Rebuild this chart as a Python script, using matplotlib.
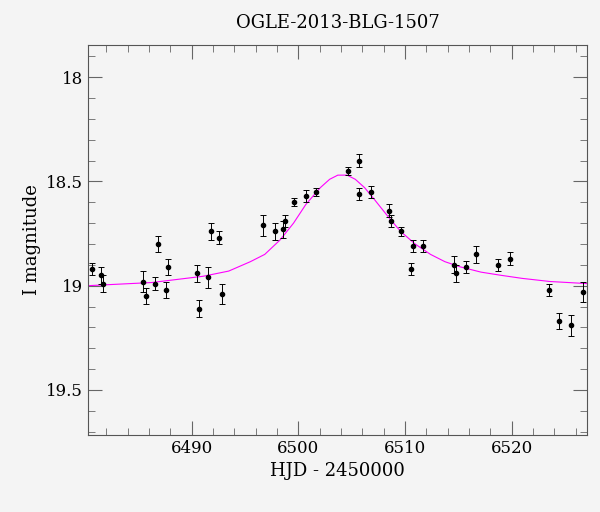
import matplotlib
matplotlib.use("Agg")
import matplotlib.pyplot as plt
from matplotlib.ticker import MultipleLocator

hjd = [6480.63,6481.50,6481.69,6485.46,6485.75,6486.52,6486.81,6487.58,6487.78,6490.48,6490.68,
       6491.54,6491.83,6492.60,6492.80,6496.66,6497.82,6498.59,6498.78,6499.55,6500.71,6501.68,
       6504.67,6505.64,6505.73,6506.79,6508.53,6508.73,6509.59,6510.56,6510.75,6511.72,
       6514.61,6514.81,6515.67,6516.64,6518.76,6519.83,6523.49,6524.46,6525.52,6526.68]
mag = [18.92,18.95,18.99,18.98,19.05,18.99,18.80,19.02,18.91,18.94,19.11,
       18.96,18.74,18.77,19.04,18.71,18.74,18.73,18.69,18.60,18.57,18.55,
       18.45,18.56,18.40,18.55,18.64,18.69,18.74,18.92,18.81,18.81,
       18.90,18.94,18.91,18.85,18.90,18.87,19.02,19.17,19.19,19.03]
err = [0.03,0.04,0.04,0.05,0.04,0.03,0.04,0.04,0.04,0.04,0.04,
       0.05,0.04,0.03,0.05,0.05,0.04,0.04,0.03,0.02,0.03,0.02,
       0.02,0.03,0.03,0.03,0.03,0.03,0.02,0.03,0.03,0.03,
       0.04,0.04,0.03,0.04,0.03,0.03,0.03,0.04,0.05,0.05]

model_t = [6480.28,6486.24,6491.06,6493.47,6495.50,6496.85,6498.30,6499.55,6500.71,6502.06,6502.93,
           6503.70,6504.57,6505.34,6506.21,6507.18,6508.43,6509.59,6510.94,6512.39,6513.74,
           6515.19,6517.12,6518.96,6520.98,6523.59,6527.06]
model_m = [19.00,18.985,18.955,18.93,18.885,18.85,18.78,18.70,18.61,18.53,18.49,
           18.47,18.47,18.49,18.53,18.59,18.67,18.74,18.80,18.85,18.885,
           18.91,18.935,18.95,18.965,18.98,18.99]

plt.rcParams["font.family"] = "DejaVu Serif"
fig = plt.figure(figsize=(6, 5.12), dpi=100, facecolor="#f4f4f4")
ax = fig.add_axes([88/600, 1-435/512, (587-88)/600, (435-45)/512])
ax.set_facecolor("#f4f4f4")
ax.plot(model_t, model_m, color="#ff00ff", lw=0.8)
ax.errorbar(hjd, mag, yerr=err, fmt="o", ms=3, color="black", ecolor="black",
            elinewidth=0.7, capsize=2, capthick=0.7)
ax.set_xlim(6480.28, 6527.06)
ax.set_ylim(19.716, 17.846)
ax.xaxis.set_major_locator(MultipleLocator(10))
ax.xaxis.set_minor_locator(MultipleLocator(2))
ax.yaxis.set_major_locator(MultipleLocator(0.5))
ax.yaxis.set_minor_locator(MultipleLocator(0.1))
for s in ax.spines.values():
    s.set_color("#555555")
ax.tick_params(which="both", direction="in", top=True, right=True, labelsize=12, color="#666666")
ax.tick_params(which="major", length=10)
ax.tick_params(which="minor", length=5)
ax.yaxis.set_major_formatter(matplotlib.ticker.FuncFormatter(lambda v, p: f"{v:g}"))
ax.set_xlabel("HJD - 2450000", fontsize=13)
ax.set_ylabel("I magnitude", fontsize=13)
ax.set_title("OGLE-2013-BLG-1507", fontsize=13, pad=12)
fig.savefig("out.png", dpi=100, facecolor=fig.get_facecolor())
